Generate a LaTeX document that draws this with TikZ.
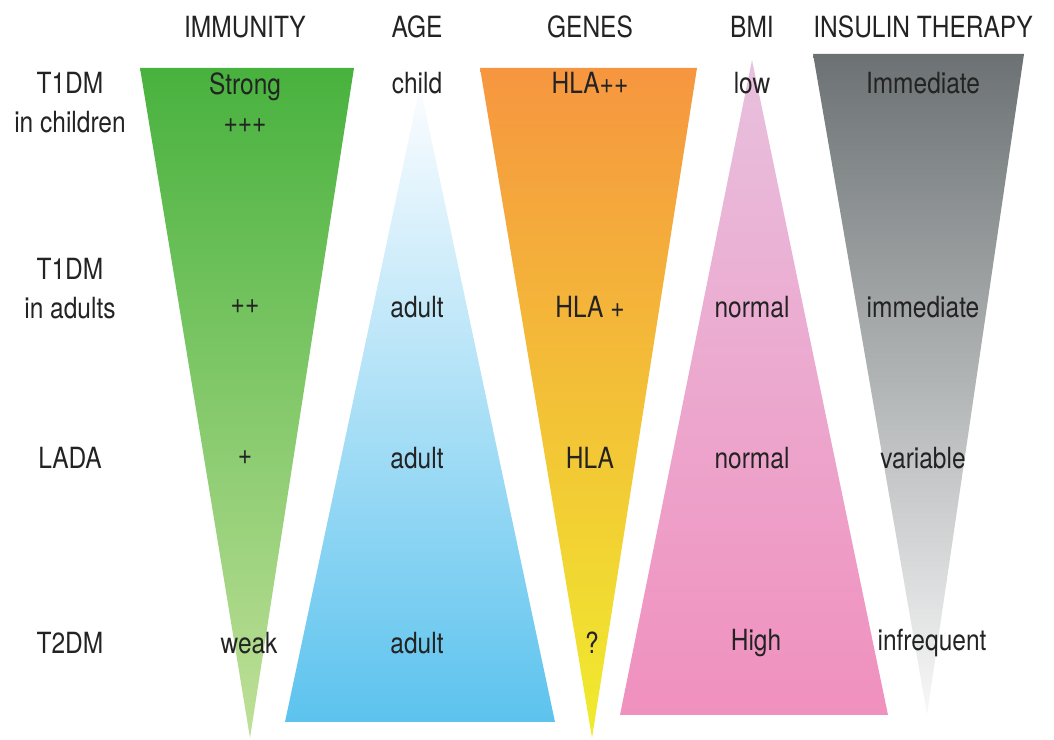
\documentclass[tikz,border=0pt]{standalone}
\usepackage{fontspec}
\setmainfont[FakeStretch=0.84]{TeX Gyre Heros}
\usepackage{xcolor}
\usetikzlibrary{math}

\definecolor{immtop}{RGB}{72,178,62}
\definecolor{immbot}{RGB}{192,224,152}
\definecolor{agetop}{RGB}{252,253,255}
\definecolor{agebot}{RGB}{92,195,238}
\definecolor{gentop}{RGB}{246,150,64}
\definecolor{genmid}{RGB}{250,200,45}
\definecolor{genbot}{RGB}{240,236,45}
\definecolor{bmitop}{RGB}{232,192,222}
\definecolor{bmibot}{RGB}{240,144,190}
\definecolor{instop}{RGB}{108,114,116}
\definecolor{insbot}{RGB}{248,248,248}
\definecolor{txt}{RGB}{35,35,35}

\begin{document}
\begin{tikzpicture}[lbl/.style={text=txt, inner sep=0pt, align=center, font=\fontsize{8.3}{11}\selectfont}]
\tikzmath{
\yH=7.13;
\yA=6.375;
\yB=4.515;
\yC=2.82;
\yD=0.97;
\xL=0.70;
\xI=2.45;
\xA=4.17;
\xG=5.90;
\xB=7.52;
\xT=9.23;
}
\useasboundingbox (0,0) rectangle (10.54,7.40);

% triangles
\coordinate (I1) at (1.40,6.72); \coordinate (I2) at (3.54,6.72); \coordinate (I3) at (2.50,0.02);
\coordinate (A1) at (4.20,6.54); \coordinate (A2) at (5.55,0.18); \coordinate (A3) at (2.85,0.18);
\coordinate (G1) at (4.80,6.72); \coordinate (G2) at (6.97,6.72); \coordinate (G3) at (5.92,0.02);
\coordinate (B1) at (7.52,6.80); \coordinate (B2) at (8.88,0.25); \coordinate (B3) at (6.20,0.25);
\coordinate (T1) at (8.13,6.86); \coordinate (T2) at (10.24,6.86); \coordinate (T3) at (9.27,0.25);

\shade[top color=immtop, bottom color=immbot] (I1) -- (I2) -- (I3) -- cycle;
\shade[top color=agetop, bottom color=agebot] (A1) -- (A2) -- (A3) -- cycle;
\shade[top color=gentop, middle color=genmid, bottom color=genbot] (G1) -- (G2) -- (G3) -- cycle;
\shade[top color=bmitop, bottom color=bmibot] (B1) -- (B2) -- (B3) -- cycle;
\shade[top color=instop, bottom color=insbot] (T1) -- (T2) -- (T3) -- cycle;

% headings
\node[lbl] (hImm) at (\xI,\yH) {IMMUNITY};
\node[lbl] (hAge) at (\xA,\yH) {AGE};
\node[lbl] (hGen) at (\xG,\yH) {GENES};
\node[lbl] (hBmi) at (\xB,\yH) {BMI};
\node[lbl] (hIns) at (\xT,\yH) {INSULIN THERAPY};

% rows
\node[lbl] (rChild) at (\xL,\yA) {T1DM\\in children};
\node[lbl] (rAdult) at (\xL,\yB) {T1DM\\in adults};
\node[lbl] (rLada) at (\xL,\yC) {LADA};
\node[lbl] (rT2) at (\xL,\yD) {T2DM};

\node[lbl] (iA) at (\xI,\yA) {Strong\\+++};
\node[lbl] (iB) at (\xI,4.33) {++};
\node[lbl] (iC) at (\xI,\yC) {+};
\node[lbl] (iD) at (2.49,\yD) {weak};

\node[lbl] (aA) at (\xA,6.57) {child};
\node[lbl] (aB) at (\xA,4.33) {adult};
\node[lbl] (aC) at (\xA,\yC) {adult};
\node[lbl] (aD) at (\xA,\yD) {adult};

\node[lbl] (gA) at (\xG,6.57) {HLA++};
\node[lbl] (gB) at (\xG,4.33) {HLA +};
\node[lbl] (gC) at (\xG,\yC) {HLA};
\node[lbl] (gD) at (5.92,\yD) {?};

\node[lbl] (bA) at (\xB,6.57) {low};
\node[lbl] (bB) at (\xB,4.33) {normal};
\node[lbl] (bC) at (\xB,\yC) {normal};
\node[lbl] (bD) at (7.56,\yD) {High};

\node[lbl] (tA) at (\xT,6.57) {Immediate};
\node[lbl] (tB) at (\xT,4.33) {immediate};
\node[lbl] (tC) at (\xT,\yC) {variable};
\node[lbl] (tD) at (9.32,\yD) {infrequent};
\end{tikzpicture}
\end{document}
